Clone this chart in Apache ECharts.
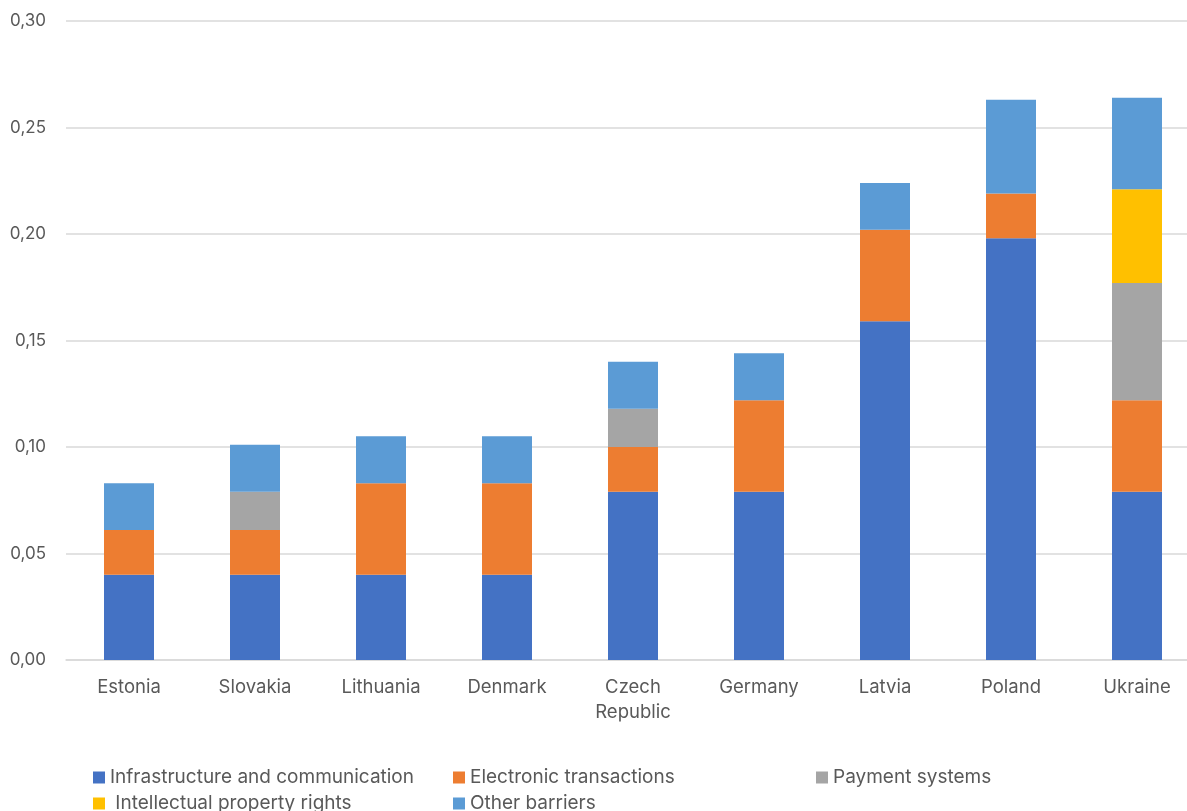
<!DOCTYPE html>
<html>
<head>
<meta charset="utf-8">
<script src="https://cdn.jsdelivr.net/npm/echarts@6/dist/echarts.min.js"></script>
<style>
  html, body { margin: 0; padding: 0; background: #fff; overflow: hidden; }
  /* the plot runs past the right edge of the window, like the original */
  #chart { width: 1200px; height: 811px; }
</style>
</head>
<body>
<div id="chart"></div>
<script>
var countries = ["Estonia", "Slovakia", "Lithuania", "Denmark", "Czech\nRepublic", "Germany", "Latvia", "Poland", "Ukraine"];

var infrastructure = [0.040, 0.040, 0.040, 0.040, 0.079, 0.079, 0.159, 0.198, 0.079];
var electronic = [0.021, 0.021, 0.043, 0.043, 0.021, 0.043, 0.043, 0.021, 0.043];
var payment = [null, 0.018, null, null, 0.018, null, null, null, 0.055];
var intellectual = [null, null, null, null, null, null, null, null, 0.044];
var other = [0.022, 0.022, 0.022, 0.022, 0.022, 0.022, 0.022, 0.044, 0.043];

var names = ["Infrastructure and communication", "Electronic transactions", "Payment systems", " Intellectual property rights", "Other barriers"];
var colors = ["#4472C4", "#ED7D31", "#A5A5A5", "#FFC000", "#5B9BD5"];
var values = [infrastructure, electronic, payment, intellectual, other];

var font = "Inter, 'Open Sans', sans-serif";

var series = [];
for (var i = 0; i < names.length; i++) {
  series.push({
    name: names[i],
    type: "bar",
    stack: "total",
    barWidth: 50,
    itemStyle: { color: colors[i] },
    data: values[i]
  });
}

// one legend per entry so each can sit where it does in the original
var legendPos = [[88, 763], [448, 763], [811, 763], [88, 789], [448, 789]];
var legends = [];
for (var j = 0; j < names.length; j++) {
  legends.push({
    left: legendPos[j][0], top: legendPos[j][1],
    itemWidth: 12, itemHeight: 12, icon: "rect", itemGap: 0,
    textStyle: { color: "#595959", fontSize: 19, fontFamily: font },
    data: [names[j]]
  });
}

var myChart = echarts.init(document.getElementById("chart"));
var option = {
  color: colors,
  animation: false,
  grid: { left: 66, top: 21, right: 0, bottom: 151 },
  legend: legends,
  xAxis: {
    type: "category",
    data: countries,
    axisLine: { lineStyle: { color: "#D9D9D9", width: 1.5 } },
    axisTick: { show: false },
    axisLabel: { color: "#595959", fontSize: 18.5, fontFamily: font, margin: 15, lineHeight: 25 }
  },
  yAxis: {
    type: "value",
    min: 0,
    max: 0.3,
    interval: 0.05,
    axisLine: { show: false },
    axisTick: { show: false },
    splitLine: { lineStyle: { color: "#D9D9D9", width: 1.5 } },
    axisLabel: {
      color: "#595959", fontSize: 17, fontFamily: font, margin: 20,
      formatter: function (v) { return v.toFixed(2).replace(".", ","); }
    }
  },
  series: series
};
myChart.setOption(option);
</script>
</body>
</html>
